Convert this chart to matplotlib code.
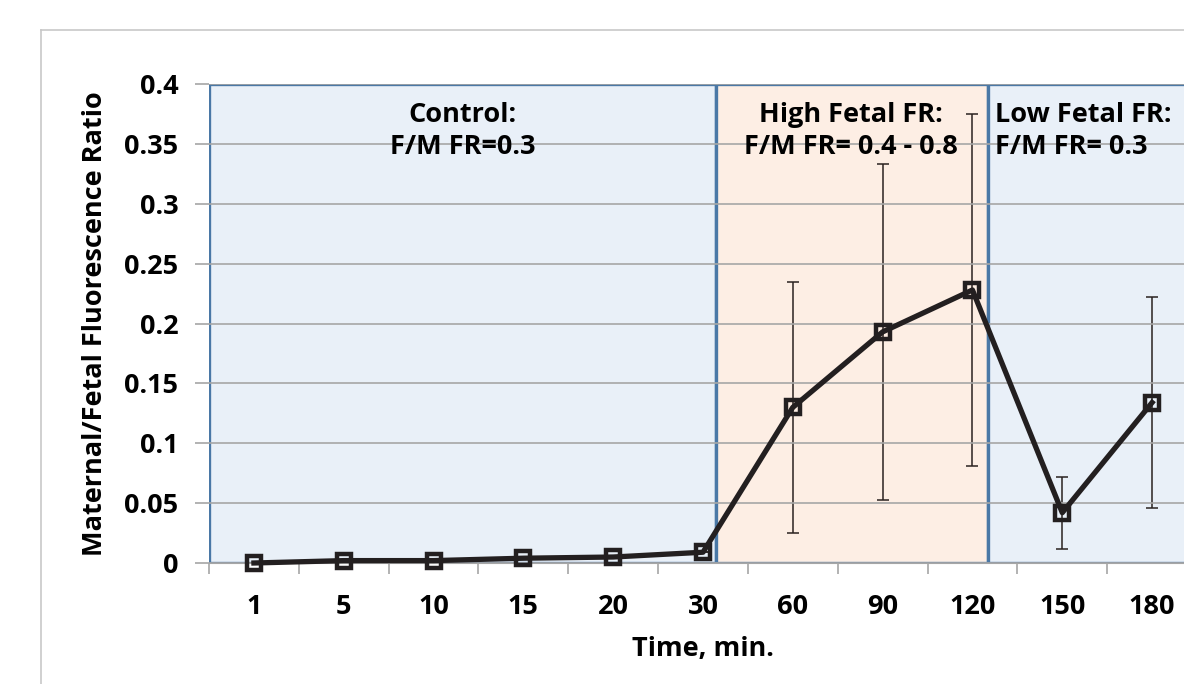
import numpy as np
import matplotlib
matplotlib.use("Agg")
import matplotlib.pyplot as plt
from matplotlib.patches import Rectangle
from matplotlib.lines import Line2D

# data
times = ["1", "5", "10", "15", "20", "30", "60", "90", "120", "150", "180"]
ratio = [0.000, 0.002, 0.002, 0.004, 0.005, 0.009, 0.130, 0.193, 0.228, 0.042, 0.134]
err = [0, 0, 0, 0, 0, 0, 0.105, 0.140, 0.147, 0.030, 0.088]

# phases: edges in category units, label, colour
phase_edges = [-0.5, 5.14, 8.17, 10.5]
phase_labels = ["Control:\nF/M FR=0.3", "High Fetal FR:\nF/M FR= 0.4 - 0.8", "Low Fetal FR:\nF/M FR= 0.3"]
phase_colors = ["#e9f0f8", "#fdeee4", "#e9f0f8"]

plt.rcParams['font.family'] = ['Open Sans', 'DejaVu Sans']
plt.rcParams['font.weight'] = 'bold'
FS = 19.5

fig = plt.figure(figsize=(11.84, 6.84), dpi=100)
ax = fig.add_axes([209/1184, 121/684, 988/1184, 479/684])

x = np.arange(len(times))

for i in range(3):
    r = Rectangle((phase_edges[i], 0), phase_edges[i+1] - phase_edges[i], 0.4,
                  facecolor=phase_colors[i], edgecolor="#4a78a6", lw=2.4, zorder=0.5)
    ax.add_patch(r)

ax.set_axisbelow(False)
ax.yaxis.grid(True, color="#a6a6a6", lw=1.2, zorder=1)
for gl in ax.get_ygridlines():
    gl.set_zorder(1)

ax.errorbar(x, ratio, yerr=err, fmt='none', ecolor="#2a2220", elinewidth=1.1,
            capsize=4.5, capthick=1.1, zorder=2)
ax.plot(x, ratio, color="#231f20", lw=3.8, marker='s', ms=10, mfc='none',
        mec="#231f20", mew=3.2, zorder=3, clip_on=False)

# phase labels
ax.text(2.32, 0.361, phase_labels[0], ha='center', va='center', fontsize=FS,
        fontweight='bold', linespacing=1.3, zorder=4)
ax.text(6.65, 0.361, phase_labels[1], ha='center', va='center', fontsize=FS,
        fontweight='bold', linespacing=1.3, zorder=4)
ax.text(8.25, 0.361, phase_labels[2], ha='left', va='center', fontsize=FS,
        fontweight='bold', linespacing=1.3, zorder=4)

ax.set_xlim(-0.5, 10.5)
ax.set_ylim(0, 0.4)
ax.set_yticks(np.arange(0, 0.401, 0.05))
ax.set_yticklabels(["0", "0.05", "0.1", "0.15", "0.2", "0.25", "0.3", "0.35", "0.4"])
ax.set_xticks(x)
ax.set_xticklabels(times)
ax.set_xticks(np.arange(-0.5, 10.6, 1), minor=True)
ax.tick_params(axis='x', which='major', length=0, pad=22, labelsize=FS)
ax.tick_params(axis='x', which='minor', length=8, color="#a6a6a6", width=1.2)
ax.tick_params(axis='y', length=10, color="#a6a6a6", width=1.2, labelsize=FS, pad=12)
for s in ["top", "right", "left"]:
    ax.spines[s].set_visible(False)
ax.spines["bottom"].set_color("#a6a6a6")

ax.set_xlabel("Time, min.", fontsize=FS, fontweight='bold', labelpad=12)
ax.set_ylabel("Maternal/Fetal Fluorescence Ratio", fontsize=FS, fontweight='bold', labelpad=12)

# chart area border (cropped on the right and bottom)
fig.add_artist(Line2D([41/1184, 41/1184], [0, 654/684], color="#c8c8c8", lw=1.2))
fig.add_artist(Line2D([41/1184, 1], [654/684, 654/684], color="#c8c8c8", lw=1.2))

fig.savefig("out.png", dpi=100)
